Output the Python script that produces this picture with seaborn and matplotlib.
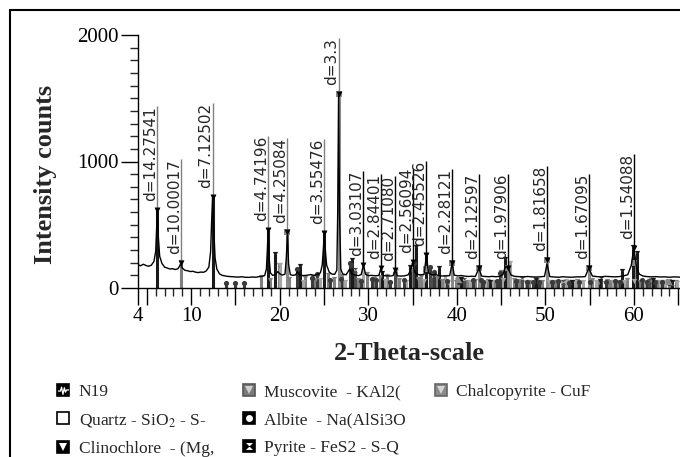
import numpy as np
import pandas as pd
import matplotlib
matplotlib.use('Agg')
import matplotlib.pyplot as plt
import seaborn as sns
from matplotlib.lines import Line2D
from matplotlib.path import Path
from matplotlib.legend_handler import HandlerTuple
from matplotlib.ticker import MultipleLocator
from matplotlib.transforms import offset_copy

theta = [4.0, 4.3, 4.6, 4.9, 5.2, 5.5, 5.8, 6.0, 6.1, 6.19, 6.3, 6.45, 6.7, 7.0, 7.3, 7.6, 7.9,
         8.2, 8.5, 8.7, 8.84, 9.0, 9.3, 9.6, 9.9, 10.2, 10.5, 10.8, 11.1, 11.4, 11.7, 12.0, 12.2,
         12.3, 12.42, 12.55, 12.7, 12.9, 13.2, 13.5, 13.8, 14.1, 14.5, 14.9, 15.3, 15.7, 16.1,
         16.5, 16.9, 17.3, 17.7, 18.0, 18.3, 18.5, 18.6, 18.7, 18.8, 18.95, 19.2, 19.5, 19.8,
         20.0, 20.3, 20.6, 20.75, 20.88, 21.0, 21.2, 21.5, 21.8, 22.0, 22.2, 22.6, 23.0, 23.5,
         23.9, 24.3, 24.6, 24.8, 24.95, 25.03, 25.15, 25.3, 25.6, 25.9, 26.2, 26.45, 26.55,
         26.65, 26.75, 26.9, 27.1, 27.5, 27.9, 28.1, 28.5, 28.9, 29.2, 29.45, 29.7, 30.0, 30.4,
         30.8, 31.2, 31.43, 31.7, 32.1, 32.5, 32.8, 33.02, 33.3, 33.7, 34.1, 34.5, 34.8, 35.01,
         35.2, 35.5, 35.9, 36.3, 36.57, 36.8, 37.2, 37.6, 38.0, 38.4, 38.8, 39.2, 39.47, 39.7,
         40.1, 40.5, 40.9, 41.3, 41.7, 42.1, 42.49, 42.8, 43.2, 43.6, 44.0, 44.4, 44.8, 45.2,
         45.5, 45.81, 46.1, 46.5, 47.0, 47.5, 48.0, 48.5, 49.0, 49.5, 49.9, 50.18, 50.5, 51.0,
         51.5, 52.0, 52.5, 53.0, 53.5, 54.0, 54.5, 54.9, 55.3, 55.8, 56.3, 56.8, 57.3, 57.8,
         58.3, 58.8, 59.3, 59.7, 59.99, 60.3, 60.6, 61.0, 61.5, 62.0, 62.5, 63.0, 63.5, 64.0,
         64.5, 65.2]
counts = [183, 176, 188, 178, 172, 180, 210, 290, 470, 620, 400, 250, 195, 165, 158, 150, 153,
          146, 152, 172, 197, 158, 140, 136, 130, 132, 125, 122, 126, 124, 135, 165, 290,
          500, 717, 470, 240, 150, 112, 100, 96, 92, 90, 88, 86, 89, 85,
          84, 87, 85, 90, 92, 98, 150, 290, 457, 240, 120, 100, 106, 130,
          112, 102, 110, 240, 441, 190, 105, 100, 104, 130, 104, 98, 100, 106,
          100, 108, 120, 180, 330, 433, 300, 180, 125, 110, 108, 140, 600,
          1535, 600, 150, 112, 104, 150, 115, 102, 98, 106, 181, 108, 98, 100,
          96, 100, 157, 98, 96, 95, 98, 142, 96, 94, 96, 104, 140, 205,
          130, 108, 104, 108, 260, 118, 104, 108, 96, 95, 96, 98, 197, 102,
          96, 98, 94, 91, 93, 91, 157, 94, 91, 89, 92, 89, 92, 105,
          170, 157, 104, 92, 90, 88, 91, 88, 87, 89, 92, 190, 90, 87,
          85, 89, 86, 85, 88, 88, 90, 157, 95, 90, 88, 92, 90, 88,
          90, 95, 105, 180, 315, 160, 110, 95, 90, 88, 90, 87, 88, 85,
          88, 86]

# labelled peaks
peak_theta = [6.19, 8.84, 12.42, 18.70, 20.88, 25.03, 26.65, 29.45, 31.43, 33.02, 35.01,
              36.57, 39.47, 42.49, 45.81, 50.18, 54.90, 59.99]
peak_counts = [620, 197, 717, 457, 441, 433, 1535, 181, 157, 142, 205, 260, 197, 157, 157,
               220, 157, 315]
peak_d = ['14.27541', '10.00017', '7.12502', '4.74196', '4.25084', '3.55476', '3.3',
          '3.03107', '2.84401', '2.71080', '2.56094', '2.45526', '2.28121', '2.12597',
          '1.97906', '1.81658', '1.67095', '1.54088']

# reference sticks of the phases
clino_pos = [6.19, 12.42, 18.70, 19.48, 22.3, 25.03, 28.14, 31.5, 34.73, 35.41, 36.54, 37.94,
             40.5, 43.8, 45.47, 48.9, 53.0, 56.2, 58.65, 59.9, 60.4, 62.2, 64.3]
clino_int = [620, 717, 457, 270, 170, 433, 220, 120, 165, 323, 260, 157,
             70, 50, 230, 60, 50, 55, 134, 323, 275, 60, 50]
musc_pos = [8.84, 17.9, 18.9, 19.9, 21.1, 22.9, 23.8, 24.0, 25.5, 26.1, 27.0, 28.8, 29.9,
            30.6, 31.3, 32.1, 33.5, 34.9, 35.6, 36.0, 37.8, 38.3, 39.9, 40.0, 41.2, 42.0,
            43.5, 44.3, 45.0, 46.4, 47.0, 48.2, 49.6, 50.6, 51.1, 52.5, 52.9, 53.6, 55.3,
            56.0, 57.0, 57.3, 58.2, 59.2, 60.7, 61.9, 62.6, 63.3, 64.0, 64.7]
musc_int = [205, 87, 60, 181, 70, 80, 90, 60, 100, 70, 95, 60, 110,
            75, 85, 95, 60, 140, 70, 90, 80, 55, 50, 60, 45, 55,
            55, 50, 130, 60, 55, 45, 50, 50, 45, 45, 50, 55, 60,
            45, 55, 50, 50, 60, 50, 65, 45, 50, 45, 45]
quartz_pos = [20.88, 26.65, 36.57, 39.47, 40.3, 42.49, 45.81, 50.18, 54.90, 59.99, 64.0]
quartz_int = [441, 1535, 150, 197, 60, 157, 157, 220, 157, 200, 50]
albite_pos = [13.9, 15.0, 16.0, 22.0, 23.6, 24.2, 25.7, 26.9, 27.9, 28.0, 29.2, 30.4, 30.9,
              32.4, 33.98, 35.19, 36.92, 37.37, 38.9, 40.2, 41.8, 42.7, 43.0, 44.5, 44.9,
              46.7, 47.9, 48.6, 49.3, 50.8, 51.4, 52.7, 53.8, 55.0, 56.8, 57.9, 58.4, 60.9,
              61.5, 62.4, 63.2, 64.0]
albite_int = [40, 38, 38, 150, 80, 110, 60, 70, 200, 180, 55, 70, 60,
              50, 63, 197, 165, 126, 55, 50, 60, 65, 45, 55, 120,
              55, 45, 50, 50, 45, 55, 40, 50, 45, 48, 55, 50, 60,
              45, 50, 45, 40]
pyrite_pos = [28.52, 33.02, 37.06, 40.8, 47.4, 52.0, 56.3, 61.7, 64.3]
pyrite_int = [142, 142, 90, 65, 70, 50, 75, 55, 40]
chalco_pos = [20.05, 22.6, 24.6, 27.4, 29.45, 31.9, 33.15, 34.3, 36.3, 38.69, 39.0, 41.5,
              43.2, 44.0, 45.2, 46.0, 47.8, 48.8, 49.1, 50.4, 51.9, 52.3, 53.3, 54.2, 55.7,
              57.6, 58.9, 60.0, 61.3, 62.9, 63.5, 64.9]
chalco_int = [181, 50, 60, 45, 181, 55, 134, 50, 55, 87, 45, 50,
              50, 45, 60, 200, 50, 70, 60, 45, 50, 55, 45, 45, 50,
              45, 50, 55, 50, 45, 45, 40]

xtick_pos = [4, 5, 10, 15, 20, 25, 30, 35, 40, 45, 50, 55, 60, 65]
xtick_lab = ['4', '', '10', '', '20', '', '30', '', '40', '', '50', '', '60', '']

sns.set_style('ticks')
plt.rcParams['font.family'] = ['Liberation Serif', 'DejaVu Serif']
plt.rcParams['mathtext.fontset'] = 'stix'

W, H = 680, 457
fig = plt.figure(figsize=(6.8, 4.57), dpi=100)
ax = fig.add_axes([138 / W, 1 - 288 / H, 542 / W, 253 / H])

# phase sticks with their symbols on top
hourglass = Path([(-1, 1), (1, 1), (-1, -1), (1, -1), (-1, 1)],
                 [Path.MOVETO, Path.LINETO, Path.LINETO, Path.LINETO, Path.CLOSEPOLY])
phases = [
    (musc_pos, musc_int, '#7f7f7f', 'v'),
    (chalco_pos, chalco_int, '#a6a6a6', 'v'),
    (albite_pos, albite_int, '#3a3a3a', 'o'),
    (pyrite_pos, pyrite_int, '#4d4d4d', hourglass),
    (quartz_pos, quartz_int, '#8a8a8a', 's'),
    (clino_pos, clino_int, '#1a1a1a', 'v'),
]
for pos, inten, col, mk in phases:
    ax.vlines(pos, 0, inten, colors=col, lw=2.2, zorder=2)
    ax.scatter(pos, inten, marker=mk, s=14, color=col, zorder=3, linewidths=0)

df = pd.DataFrame({'theta': theta, 'counts': counts})
sns.lineplot(data=df, x='theta', y='counts', color='black', lw=1.0, ax=ax, zorder=4)

# d-spacing labels
trans = offset_copy(ax.transData, fig=fig, x=-2, y=9, units='dots')
texts = []
for x, y, d in zip(peak_theta, peak_counts, peak_d):
    t = ax.text(x, y, f'd={d}', transform=trans, rotation=90, rotation_mode='anchor',
                ha='left', va='baseline', fontsize=11, family='DejaVu Sans',
                clip_on=True, zorder=6)
    texts.append(t)
ax.scatter(peak_theta, peak_counts, marker='v', s=18, color='black', zorder=6, linewidths=0)

ax.set_xlim(4, 65.2)
ax.set_ylim(0, 2000)
ax.set_xticks(xtick_pos)
ax.set_xticklabels(xtick_lab)
ax.xaxis.set_minor_locator(MultipleLocator(1))
ax.set_yticks([0, 1000, 2000])
ax.yaxis.set_minor_locator(MultipleLocator(100))
ax.tick_params(which='major', length=12, width=1, labelsize=15, direction='out', pad=2,
               colors='black')
ax.tick_params(which='minor', length=6, width=1, direction='out')
ax.set_xlabel('')
ax.set_ylabel('')
for s in ['top', 'right']:
    ax.spines[s].set_visible(False)
for s in ['left', 'bottom']:
    ax.spines[s].set_linewidth(1.0)
    ax.spines[s].set_color('black')

# leader lines run from each peak to the end of its label
fig.canvas.draw()
rend = fig.canvas.get_renderer()
inv = ax.transData.inverted()
for x, y, t in zip(peak_theta, peak_counts, texts):
    bb = t.get_window_extent(rend)
    top = inv.transform((0, bb.y1))[1]
    col = '#808080' if x < 27 else 'black'
    ax.vlines(x, y, top, colors=col, lw=1.0, zorder=5)

fig.text(46 / W, 1 - 174 / H, 'Intensity counts', rotation=90, ha='center', va='center',
         fontsize=19, fontweight='bold')
fig.text(409 / W, 1 - 353 / H, '2-Theta-scale', ha='center', va='center',
         fontsize=19, fontweight='bold')

# outer frame
fig.add_artist(Line2D([10 / W, 10 / W], [0, 1 - 10 / H], color='black', lw=1.5,
                      transform=fig.transFigure))
fig.add_artist(Line2D([10 / W, 1], [1 - 10 / H, 1 - 10 / H], color='black', lw=1.5,
                      transform=fig.transFigure))

# legend
zig = Path([(-1, -0.1), (-0.55, -0.1), (-0.35, 0.6), (-0.1, -0.7), (0.15, 0.5), (0.35, -0.3),
            (0.55, 0.1), (1, 0.1)])


def box(fc, ec='black'):
    return Line2D([], [], marker='s', ls='', markersize=9, markerfacecolor=fc,
                  markeredgecolor=ec, markeredgewidth=1.2)


def sym(mk, fc, size=5.5):
    return Line2D([], [], marker=mk, ls='', markersize=size, markerfacecolor=fc,
                  markeredgecolor=fc, markeredgewidth=0)


blank = Line2D([], [], ls='', marker='')
handles = [
    (box('black'), Line2D([], [], marker=zig, ls='', markersize=8, markerfacecolor='none',
                          markeredgecolor='white', markeredgewidth=0.9)),
    box('white'),
    (box('black'), sym('v', 'white')),
    (box('#7a7a7a', '#555555'), sym('v', '#cfcfcf')),
    (box('black'), sym('o', 'white', 5)),
    (box('black'), sym(hourglass, 'white', 5)),
    (box('#8a8a8a', '#666666'), sym('v', '#d5d5d5')),
    blank, blank,
]
labels = ['N19', 'Quartz - SiO$_2$ - S-', 'Clinochlore  - (Mg,', 'Muscovite  - KAl2(',
          'Albite  - Na(AlSi3O', 'Pyrite - FeS2 - S-Q', 'Chalcopyrite - CuF', ' ', ' ']
fig.legend(handles, labels, loc='upper left', bbox_to_anchor=(56 / W, 1 - 384 / H),
           ncol=3, frameon=False, borderpad=0, borderaxespad=0, fontsize=12.5,
           handlelength=0.8, handletextpad=0.5, labelspacing=0.68, columnspacing=1.6,
           handler_map={tuple: HandlerTuple(ndivide=1)})

fig.savefig('out.png', dpi=100)
